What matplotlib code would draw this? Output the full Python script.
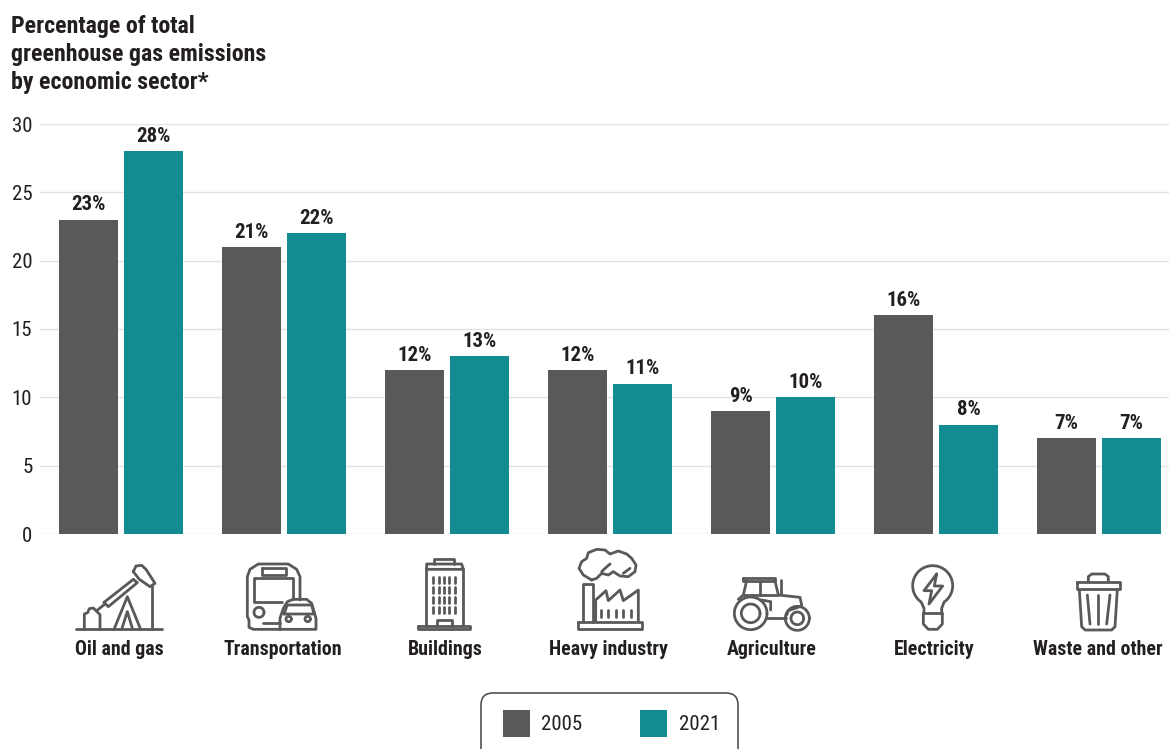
import numpy as np
import matplotlib
matplotlib.use("Agg")
import matplotlib.pyplot as plt
from matplotlib.patches import FancyBboxPatch, Rectangle
from matplotlib.transforms import ScaledTranslation

sectors = ["Oil and gas", "Transportation", "Buildings", "Heavy industry", "Agriculture", "Electricity", "Waste and other"]
values_2005 = [23, 21, 12, 12, 9, 16, 7]
values_2021 = [28, 22, 13, 11, 10, 8, 7]
y_ticks = [0, 5, 10, 15, 20, 25, 30]
legend_labels = ["2005", "2021"]

GREY = "#58595b"
TEAL = "#128c90"
INK = "#231f20"
GRID = "#e2e2e2"

plt.rcParams["font.family"] = ["Roboto Condensed", "Roboto", "DejaVu Sans"]

fig = plt.figure(figsize=(11.69, 7.49), dpi=100)
ax = fig.add_axes([40 / 1169, (749 - 534) / 749, 1129 / 1169, 410 / 749])

x = np.arange(len(sectors))
width = 0.362
off = 0.199
bars_a = ax.bar(x - off, values_2005, width=width, color=GREY, zorder=3)
bars_b = ax.bar(x + off, values_2021, width=width, color=TEAL, zorder=3)
for bars, vals in [(bars_a, values_2005), (bars_b, values_2021)]:
    for b, v in zip(bars, vals):
        ax.annotate(f"{v}%", (b.get_x() + b.get_width() / 2, v), xytext=(0, 10.6),
                    textcoords="offset points", ha="center", va="center",
                    fontsize=15, fontweight="bold", color=INK)

ax.set_xlim(-0.497, 6.429)
ax.set_ylim(0, 30)
ax.set_yticks(y_ticks)
ax.set_xticks(x, sectors, fontsize=14.35, fontweight="bold", color=INK)
ax.tick_params(axis="x", length=0, pad=76.5)
ax.tick_params(axis="y", length=0, pad=5.5, labelsize=15, labelcolor=INK)
nudge = ScaledTranslation(-1.5 / 100, 0, fig.dpi_scale_trans)
for lbl in ax.get_xticklabels():
    lbl.set_transform(lbl.get_transform() + nudge)
ax.grid(axis="y", color=GRID, linewidth=1.0, zorder=0)
ax.set_axisbelow(True)
for s in ax.spines.values():
    s.set_visible(False)

fig.text(11 / 1169, 1 - 26 / 749, "Percentage of total", fontsize=17.2, fontweight="bold", color=INK, va="center")
fig.text(11 / 1169, 1 - 55 / 749, "greenhouse gas emissions", fontsize=17.2, fontweight="bold", color=INK, va="center")
fig.text(11 / 1169, 1 - 83 / 749, "by economic sector*", fontsize=17.2, fontweight="bold", color=INK, va="center")

# overlay in pixel coords for the icons and the legend box
ov = fig.add_axes([0, 0, 1, 1], facecolor="none")
ov.set_xlim(0, 1169)
ov.set_ylim(749, 0)
ov.axis("off")


def line(pts, origin, closed=False, lw=2.0):
    pts = np.array(pts, dtype=float)
    if closed:
        pts = np.vstack([pts, pts[:1]])
    ov.plot(origin[0] + pts[:, 0] / 3, origin[1] + pts[:, 1] / 3, color=GREY, lw=lw,
            solid_joinstyle="round", solid_capstyle="round")


def arc(cx, cy, r, a0=0, a1=360):
    t = np.radians(np.linspace(a0, a1, 60))
    return np.column_stack([cx + r * np.cos(t), cy + r * np.sin(t)])


# oil pump
o = (50, 540)
line([(77, 268), (335, 268)], o)
line([(103, 268), (103, 222), (113, 218), (118, 206), (130, 204), (140, 214), (150, 224), (150, 268)], o)
line([(140, 212), (165, 192)], o)
line([(162, 187), (250, 118), (262, 128), (175, 200)], o, closed=True)
line([(250, 95), (258, 78), (275, 76), (288, 88), (315, 130), (300, 140), (268, 118), (250, 95)], o)
line([(192, 268), (232, 170), (272, 268)], o)
line([(215, 268), (232, 215), (248, 268)], o)
line([(305, 138), (305, 268)], o)

# bus and car
line([(690, 268), (610, 268), (597, 262), (597, 240), (592, 230), (592, 110), (600, 88), (625, 72),
      (715, 72), (740, 88), (750, 110), (750, 180)], o)
line([(695, 185), (612, 185), (612, 113), (728, 113), (728, 178)], o)
line([(635, 85), (708, 85), (708, 105), (635, 105)], o, closed=True)
line(arc(627, 217, 15), o)
line([(640, 250), (690, 250)], o)
line([(690, 268), (690, 235), (700, 205), (712, 185), (730, 178), (770, 178), (785, 190), (798, 235),
      (798, 268)], o, closed=True)
line([(702, 222), (712, 195), (785, 195), (792, 222)], o, closed=True)
line(arc(716, 237, 8), o)
line(arc(773, 237, 8), o)

# building
line([(1152, 72), (1152, 58), (1212, 58), (1212, 72)], o)
line([(1130, 88), (1130, 72), (1235, 72), (1240, 88)], o, closed=True)
line([(1127, 258), (1127, 88)], o)
line([(1240, 88), (1240, 258)], o)
line([(1105, 258), (1259, 258), (1259, 268), (1105, 268)], o, closed=True)
line([(1160, 258), (1160, 240), (1205, 240), (1205, 258)], o)
for wx in [1150, 1166, 1182, 1198, 1214]:
    for wy in [110, 140, 172, 202]:
        line([(wx, wy), (wx, wy + 18)], o)

# factory
o = (530, 540)
line([(145, 245), (335, 245), (335, 268), (145, 268)], o, closed=True)
line([(158, 245), (158, 133), (190, 133), (190, 245)], o)
line([(197, 245), (197, 180), (228, 152), (235, 182), (270, 150), (280, 182), (325, 150), (325, 245)], o)
for wx in [212, 235, 257, 280, 303]:
    line([(wx, 210), (wx, 232)], o)
line([(185, 120), (160, 105), (147, 85), (155, 65), (170, 55), (175, 38), (200, 28), (225, 30), (240, 42),
      (265, 33), (290, 42), (305, 55), (318, 75), (315, 95), (295, 110), (270, 108), (250, 95), (235, 105),
      (215, 100), (200, 115)], o, closed=True)
line([(215, 95), (225, 85), (240, 72)], o)
line([(280, 100), (300, 85)], o)

# tractor
line(arc(662, 220, 49), o)
line(arc(662, 220, 28), o)
line(arc(802, 235, 36), o)
line(arc(802, 235, 19), o)
line([(640, 115), (735, 115), (735, 122), (640, 122)], o, closed=True)
line([(650, 122), (640, 165), (625, 178)], o)
line([(735, 122), (745, 165), (810, 172), (815, 195)], o)
line([(690, 122), (690, 165)], o)
line([(640, 165), (745, 165)], o)
line([(752, 120), (752, 160)], o)
line([(695, 180), (722, 185), (722, 210)], o)
line([(708, 235), (768, 235)], o)
line([(770, 225), (775, 212), (815, 198)], o)

# bulb
o = (880, 550)
bulb = arc(158, 107, 60, 125, 415)
line(np.vstack([[(132, 190), (132, 175)], bulb, [(185, 175), (185, 190)]]), o)
line([(130, 190), (187, 190)], o)
line([(130, 190), (130, 222), (145, 238), (172, 238), (187, 222), (187, 190)], o)
line([(170, 72), (132, 122), (155, 122), (147, 162), (188, 108), (163, 108)], o, closed=True)

# bin
line([(590, 95), (720, 95), (720, 118), (590, 118)], o, closed=True)
line([(625, 95), (625, 80), (635, 72), (675, 72), (685, 80), (685, 95)], o)
line([(598, 118), (605, 230), (615, 240), (695, 240), (705, 230), (712, 118)], o)
line([(622, 135), (630, 222)], o)
line([(655, 135), (655, 222)], o)
line([(690, 135), (680, 222)], o)

# legend, box runs off the bottom
ov.add_patch(FancyBboxPatch((481, 693), 257, 80, boxstyle="round,pad=0,rounding_size=12",
                            fc="white", ec="#444444", lw=1.1))
for sx, col, tx, lab in zip([503, 640], [GREY, TEAL], [541, 679], legend_labels):
    ov.add_patch(Rectangle((sx, 710), 27, 27, color=col, lw=0))
    ov.text(tx, 724.5, lab, fontsize=15, color=INK, va="center", ha="left")

ov.set_xlim(0, 1169)
ov.set_ylim(749, 0)
fig.savefig("out.png", dpi=100)
